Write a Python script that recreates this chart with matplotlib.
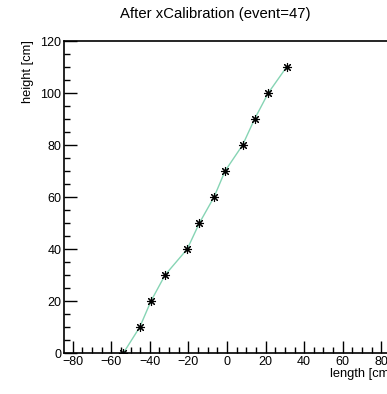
import matplotlib
matplotlib.use("Agg")
import matplotlib.pyplot as plt
from matplotlib.ticker import MultipleLocator

plt.rcParams['font.family'] = ['Liberation Sans', 'DejaVu Sans']

length_cm = [-53.7, -45.2, -39.4, -32.1, -20.6, -14.3, -6.7, -1.0, 8.1, 14.3, 21.4, 30.9]
height_cm = [0, 10, 20, 30, 40, 50, 60, 70, 80, 90, 100, 110]
title = "After xCalibration (event=47)"
xlabel = "length [cm]"
ylabel = "height [cm]"

W, H = 387, 394
fig = plt.figure(figsize=(W / 100, H / 100), dpi=100)
left, right = 64 / W, 390 / W
bottom, top = (H - 353) / H, (H - 41) / H
ax = fig.add_axes([left, bottom, right - left, top - bottom])

ax.plot(length_cm, height_cm, color='#86d4b4', lw=1.0, zorder=2)
ax.plot(length_cm, height_cm, ls='none', marker=(8, 2, 0), ms=6.5, mew=0.8,
        color='black', zorder=3)

ax.set_xlim(-84.5, 84.5)
ax.set_ylim(0, 120)
ax.xaxis.set_major_locator(MultipleLocator(20))
ax.xaxis.set_minor_locator(MultipleLocator(5))
ax.yaxis.set_major_locator(MultipleLocator(20))
ax.yaxis.set_minor_locator(MultipleLocator(5))
ax.tick_params(which='both', direction='in', top=False, right=False,
               labelsize=9, width=1.0, pad=2)
ax.tick_params(which='major', length=9)
ax.tick_params(which='minor', length=4.5)
for s in ax.spines.values():
    s.set_linewidth(1.2)

def fmt(v, pos):
    v = int(round(v))
    return ('\u2212%d' % -v) if v < 0 else '%d' % v
ax.xaxis.set_major_formatter(plt.FuncFormatter(fmt))

fig.text(215 / W, 1 - 14 / H, title, ha='center', va='center', fontsize=10.7)
fig.text(393 / W, 1 - 374 / H, xlabel, ha='right', va='center', fontsize=9.3)
fig.text(28 / W, 1 - 40 / H, ylabel, ha='center', va='top', rotation=90, fontsize=9.3)

fig.savefig('out.png', dpi=100)
